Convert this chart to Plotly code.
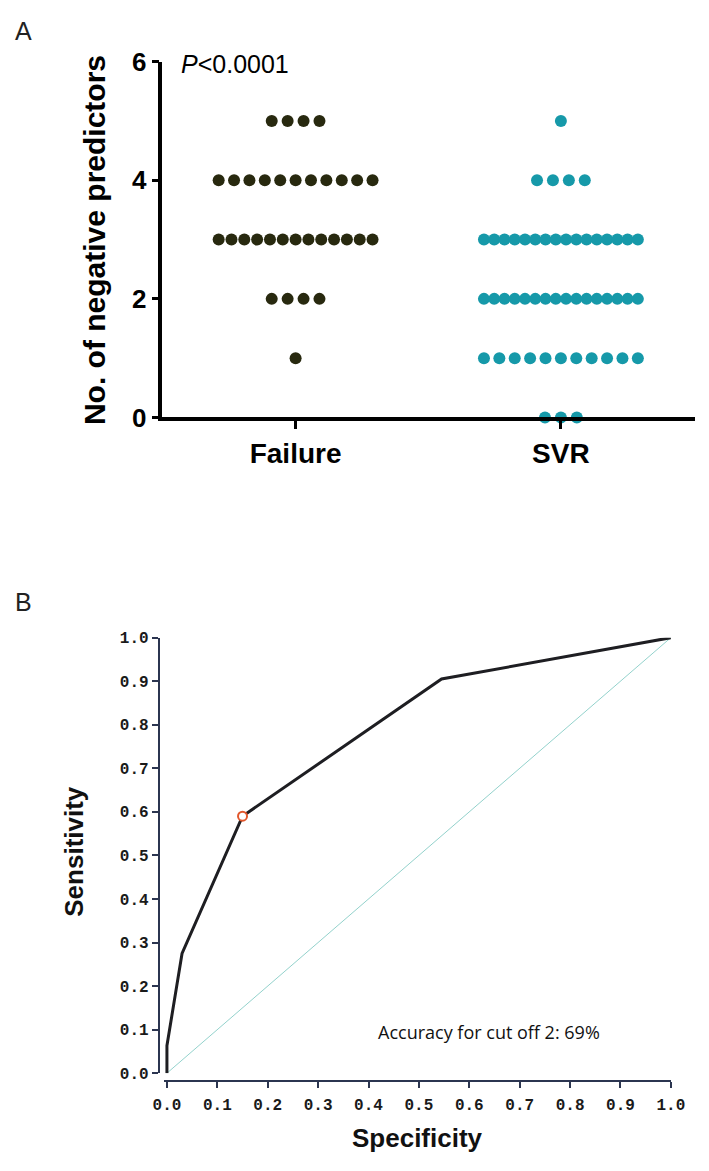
import plotly.graph_objects as go

# ---- data ----
levels = [0, 1, 2, 3, 4, 5]
failure_counts = [0, 1, 4, 13, 11, 4]
svr_counts = [3, 11, 16, 16, 4, 1]
groups = ["Failure", "SVR"]

roc_specificity = [0.0, 0.0, 0.03, 0.15, 0.545, 1.0]
roc_sensitivity = [0.0, 0.063, 0.275, 0.59, 0.905, 1.0]
cutoff_point = (0.15, 0.59)

W, H = 709, 1171
FAIL_COLOR = "#28290f"
SVR_COLOR = "#1699a9"
SANS = "Liberation Sans, Arial, sans-serif"
MONO = "Liberation Mono, Courier New, monospace"

DOT_STEP = 0.06      # x units between neighbouring dots
MAX_ROW_WIDTH = 0.58  # rows wider than this get squeezed


def row_offsets(n):
    if n <= 1:
        return [0.0] * n
    s = min(DOT_STEP, MAX_ROW_WIDTH / (n - 1))
    return [(i - (n - 1) / 2) * s for i in range(n)]


def expand(counts, center):
    xs, ys = [], []
    for lev, n in zip(levels, counts):
        for off in row_offsets(n):
            xs.append(center + off)
            ys.append(lev)
    return xs, ys


def px_x(p):
    return p / W


def px_y(p):
    return 1 - p / H


fig = go.Figure()

fx, fy = expand(failure_counts, 0)
sx, sy = expand(svr_counts, 1)
fig.add_trace(go.Scatter(x=fx, y=fy, mode="markers", cliponaxis=False,
                         marker=dict(size=12, color=FAIL_COLOR), xaxis="x", yaxis="y"))
fig.add_trace(go.Scatter(x=sx, y=sy, mode="markers", cliponaxis=False,
                         marker=dict(size=12, color=SVR_COLOR), xaxis="x", yaxis="y"))

# ROC panel
fig.add_trace(go.Scatter(x=[0, 1], y=[0, 1], mode="lines",
                         line=dict(color="#93d2cc", width=1), xaxis="x2", yaxis="y2"))
fig.add_trace(go.Scatter(x=roc_specificity, y=roc_sensitivity, mode="lines",
                         line=dict(color="#1e1e22", width=3), xaxis="x2", yaxis="y2"))
fig.add_trace(go.Scatter(x=[cutoff_point[0]], y=[cutoff_point[1]], mode="markers",
                         cliponaxis=False,
                         marker=dict(size=9, color="white", line=dict(color="#e2572c", width=2)),
                         xaxis="x2", yaxis="y2"))

# x range for panel A: y axis at 157px, Failure at 295px, SVR at 570px, right edge 709px
unit = 570 - 295
xa_range = [(157 - 295) / unit, (W - 295) / unit]

fig.update_layout(
    width=W, height=H,
    margin=dict(l=0, r=0, t=0, b=0),
    paper_bgcolor="white", plot_bgcolor="white",
    showlegend=False,
    xaxis=dict(domain=[px_x(157), 1], range=xa_range, anchor="y",
               tickvals=[0, 1], ticktext=groups,
               ticks="outside", ticklen=8, tickwidth=3, tickcolor="black",
               showline=True, linewidth=3.5, linecolor="black",
               showgrid=False, zeroline=False,
               tickfont=dict(family=SANS, size=28, color="black", weight="bold")),
    yaxis=dict(domain=[px_y(413), px_y(48)], range=[0, 6], anchor="x",
               tickvals=[0, 2, 4, 6],
               ticks="outside", ticklen=7, tickwidth=3, tickcolor="black",
               showline=True, linewidth=3.5, linecolor="black",
               showgrid=False, zeroline=False,
               tickfont=dict(family=SANS, size=26, color="black", weight="bold")),
    xaxis2=dict(domain=[px_x(158.5), px_x(684)], range=[-0.006, 1.0],
                anchor="free", position=px_y(1094),
                tickvals=[i / 10 for i in range(11)], tickformat=".1f",
                ticks="outside", ticklen=6, tickwidth=1.5, tickcolor="#2b3550",
                showline=True, linewidth=1.5, linecolor="#2b3550",
                showgrid=False, zeroline=False, ticklabelstandoff=3,
                tickfont=dict(family=MONO, size=16, color="#1a1a1a", weight="bold")),
    yaxis2=dict(domain=[px_y(1086), px_y(639)], range=[0, 1.0],
                anchor="free", position=px_x(153),
                tickvals=[i / 10 for i in range(11)], tickformat=".1f",
                ticks="outside", ticklen=6, tickwidth=1.5, tickcolor="#2b3550",
                showline=True, linewidth=1.5, linecolor="#2b3550",
                showgrid=False, zeroline=False,
                tickfont=dict(family=MONO, size=16, color="#1a1a1a", weight="bold")),
)

ann = []
ann.append(dict(text="A", x=px_x(2), y=px_y(0), xanchor="left", yanchor="top",
                font=dict(family=SANS, size=25, color="#222")))
ann.append(dict(text="B", x=px_x(2), y=px_y(586), xanchor="left", yanchor="top",
                font=dict(family=SANS, size=25, color="#222")))
ann.append(dict(text="<i>P</i>&lt;0.0001", x=px_x(174), y=px_y(50), xanchor="left", yanchor="middle",
                font=dict(family=SANS, size=25, color="black")))
ann.append(dict(text="No. of negative predictors", x=px_x(86), y=px_y(231), textangle=-90,
                xanchor="center", yanchor="middle",
                font=dict(family=SANS, size=30, color="black", weight="bold")))
ann.append(dict(text="Sensitivity", x=px_x(65), y=px_y(858), textangle=-90,
                xanchor="center", yanchor="middle",
                font=dict(family=SANS, size=26, color="#111", weight="bold")))
ann.append(dict(text="Specificity", x=px_x(421), y=px_y(1153),
                xanchor="center", yanchor="middle",
                font=dict(family=SANS, size=26, color="#111", weight="bold")))
ann.append(dict(text="Accuracy for cut off 2: 69%", x=px_x(378), y=px_y(1044),
                xanchor="left", yanchor="middle",
                font=dict(family="Open Sans, sans-serif", size=18, color="#111")))
for a in ann:
    a.update(xref="paper", yref="paper", showarrow=False)
fig.update_layout(annotations=ann)

fig.write_html("out.html", config={"displayModeBar": False},
               post_script="document.body.style.margin='0';document.body.style.overflow='hidden';")
